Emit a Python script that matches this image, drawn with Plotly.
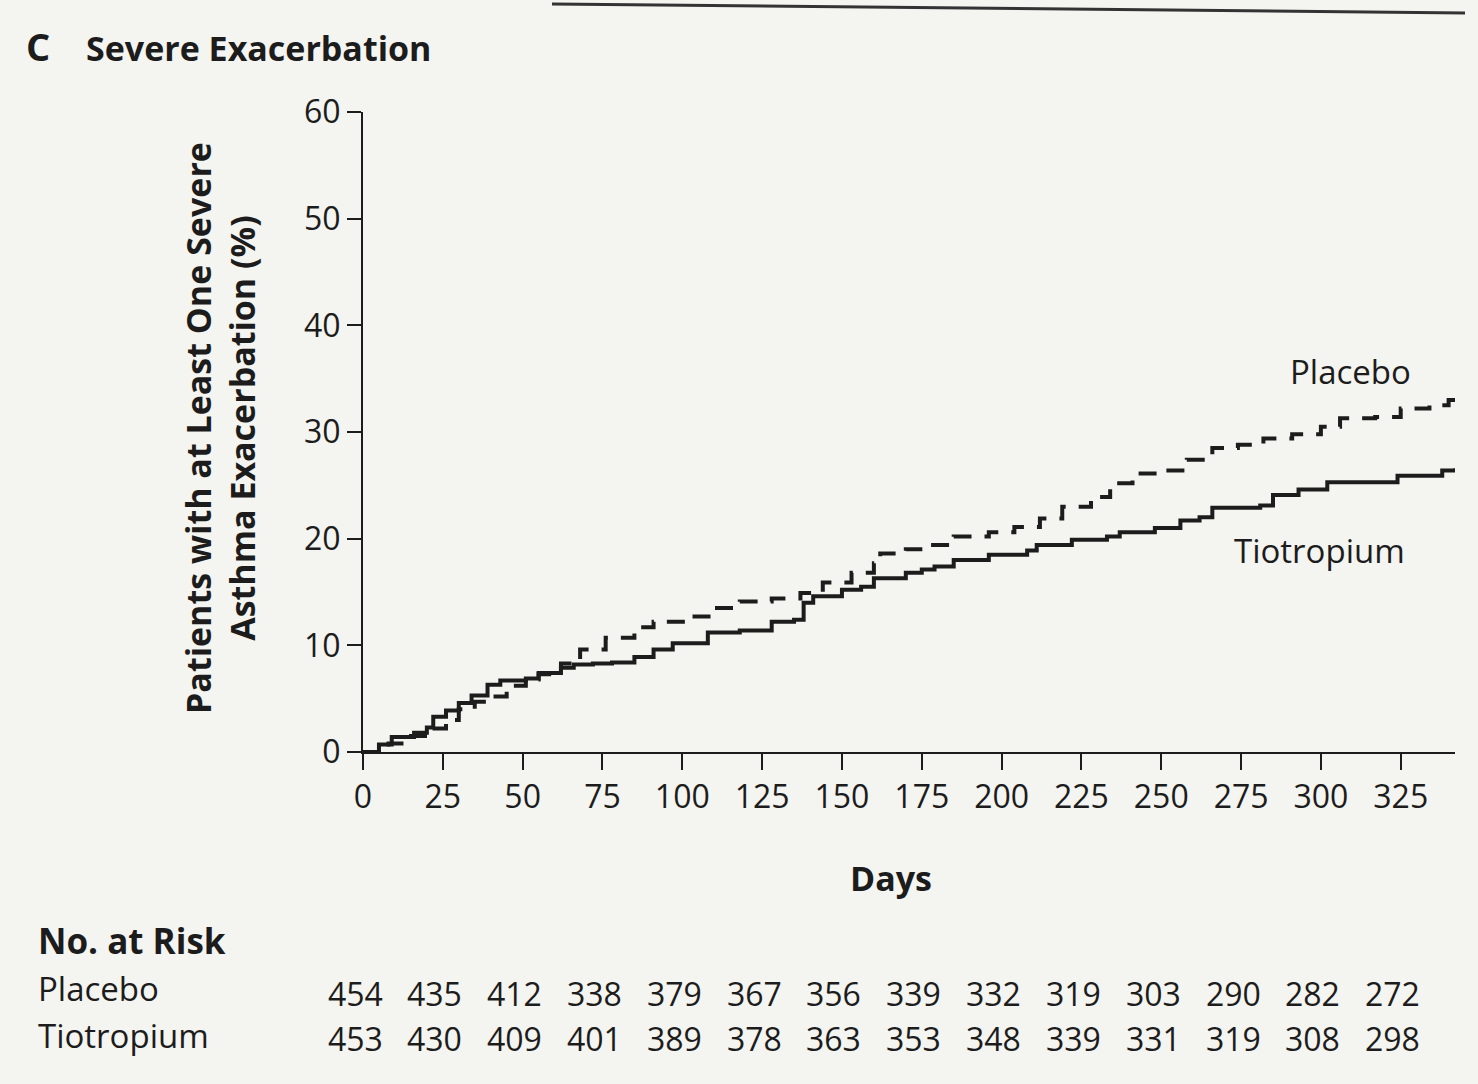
import plotly.graph_objects as go

# Kaplan-Meier style cumulative curves
tio_days = [0, 5, 9, 16, 20, 22, 26, 30, 34, 39, 43, 51, 55, 62, 66, 72, 78, 85, 91, 97,
            108, 118, 128, 135, 138, 141, 150, 156, 160, 170, 175, 179, 185, 196, 208, 211,
            222, 233, 237, 248, 256, 262, 266, 281, 285, 293, 302, 324, 338, 342]
tio_pct = [0, 0.7, 1.4, 1.8, 2.3, 3.3, 3.9, 4.6, 5.3, 6.3, 6.7, 6.9, 7.4, 7.9, 8.2, 8.3,
           8.4, 8.9, 9.6, 10.2, 11.2, 11.4, 12.2, 12.4, 14.0, 14.6, 15.2, 15.5, 16.3, 16.8,
           17.1, 17.4, 18.0, 18.5, 18.9, 19.4, 19.9, 20.2, 20.6, 21.0, 21.7, 22.0, 22.9,
           23.1, 24.1, 24.6, 25.3, 25.9, 26.4, 26.6]

pla_days = [0, 8, 14, 21, 26, 30, 35, 39, 45, 51, 55, 62, 68, 76, 85, 91, 102, 110, 118,
            128, 137, 144, 153, 160, 162, 170, 177, 185, 196, 204, 212, 219, 228, 234, 241,
            251, 258, 266, 274, 282, 291, 300, 306, 317, 325, 334, 340, 342]
pla_pct = [0, 0.8, 1.5, 2.2, 3.0, 4.0, 4.7, 5.2, 6.2, 6.8, 7.3, 8.3, 9.6, 10.7, 11.7, 12.2,
           12.7, 13.5, 14.1, 14.4, 14.9, 15.9, 16.8, 17.7, 18.6, 19.0, 19.4, 20.2, 20.6,
           21.1, 21.9, 23.0, 23.9, 25.2, 26.1, 26.4, 27.4, 28.5, 28.8, 29.4, 29.8, 30.5,
           31.3, 31.4, 32.2, 32.5, 33.0, 33.2]

x_ticks = [0, 25, 50, 75, 100, 125, 150, 175, 200, 225, 250, 275, 300, 325]
y_ticks = [0, 10, 20, 30, 40, 50, 60]

risk_placebo = [454, 435, 412, 338, 379, 367, 356, 339, 332, 319, 303, 290, 282, 272]
risk_tio = [453, 430, 409, 401, 389, 378, 363, 353, 348, 339, 331, 319, 308, 298]

FONT = "Open Sans"
INK = "#1c1c1c"
BG = "#f4f4f0"

fig = go.Figure()
fig.add_trace(go.Scatter(x=tio_days, y=tio_pct, mode="lines", line_shape="hv",
                         line=dict(color=INK, width=4), name="Tiotropium", showlegend=False))
fig.add_trace(go.Scatter(x=pla_days, y=pla_pct, mode="lines", line_shape="hv",
                         line=dict(color=INK, width=4, dash="18px,13px"), name="Placebo",
                         showlegend=False))

L, R, T, B = 363, 23, 112, 332
W, H = 1478, 1084
pw, ph = W - L - R, H - T - B

def px(xp):
    return (xp - L) / pw

def py(yp):
    return (H - B - yp) / ph

def txt(text, x, y, size, anchor="left", angle=0):
    return dict(text=text, x=px(x), y=py(y), xref="paper", yref="paper",
                xanchor=anchor, yanchor="middle", showarrow=False, textangle=angle,
                font=dict(size=size, family=FONT, color=INK))

ann = [
    txt("<b>C</b>", 24, 46, 38),
    txt("<b>Severe Exacerbation</b>", 84, 48, 34),
    txt("<b>Patients with at Least One Severe</b><br><b>Asthma Exacerbation (%)</b>",
        220, 428, 34, anchor="center", angle=-90),
    txt("<b>Days</b>", 891, 878, 34, anchor="center"),
    txt("Placebo", 1350, 371, 33, anchor="center"),
    txt("Tiotropium", 1319, 550, 33, anchor="center"),
    txt("<b>No. at Risk</b>", 36, 940, 35),
    txt("Placebo", 36, 988, 33),
    txt("Tiotropium", 36, 1035, 33),
]
for d, a, b in zip(x_ticks, risk_placebo, risk_tio):
    ann.append(dict(text=str(a), x=d, y=py(993), xref="x", yref="paper", xshift=-8,
                    xanchor="center", yanchor="middle", showarrow=False,
                    font=dict(size=32, family=FONT, color=INK)))
    ann.append(dict(text=str(b), x=d, y=py(1038), xref="x", yref="paper", xshift=-8,
                    xanchor="center", yanchor="middle", showarrow=False,
                    font=dict(size=32, family=FONT, color=INK)))

fig.update_layout(
    width=W, height=H,
    margin=dict(l=L, r=R, t=T, b=B),
    paper_bgcolor=BG, plot_bgcolor=BG,
    font=dict(family=FONT, color=INK),
    annotations=ann,
    shapes=[dict(type="line", xref="paper", yref="paper", x0=px(552), y0=py(4),
                 x1=px(1465), y1=py(13), line=dict(color="#333333", width=3))],
)
fig.update_xaxes(range=[0, 342], tickvals=x_ticks, ticks="outside", ticklen=16, tickwidth=2,
                 tickcolor=INK, showline=True, linecolor=INK, linewidth=2, showgrid=False,
                 zeroline=False, tickfont=dict(size=32, family=FONT, color=INK))
fig.update_yaxes(range=[0, 60], tickvals=y_ticks, ticks="outside", ticklen=14, tickwidth=2,
                 tickcolor=INK, showline=True, linecolor=INK, linewidth=2, showgrid=False,
                 zeroline=False, tickfont=dict(size=32, family=FONT, color=INK))

fig.write_html("out.html")
